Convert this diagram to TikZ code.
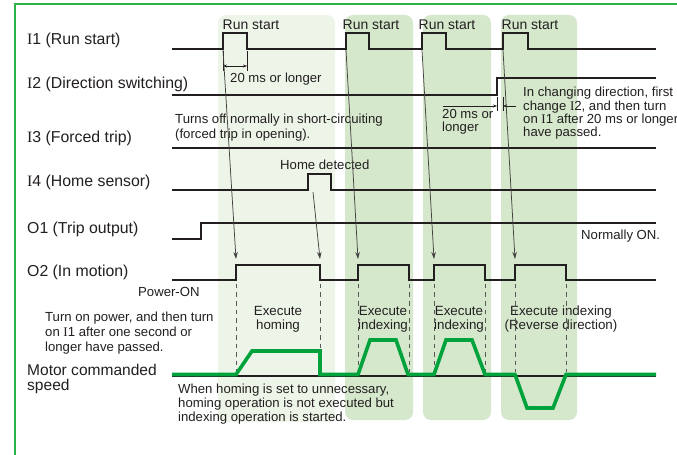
\documentclass[tikz,border=0pt]{standalone}
\usepackage{fontspec}
\setmainfont{Liberation Sans}
\newfontfamily\serifI{Liberation Serif}
\newcommand\Ii{{\serifI I}}
\usetikzlibrary{arrows.meta}
\definecolor{pale}{HTML}{EDF5E9}
\definecolor{zone}{HTML}{D5E8CC}
\definecolor{mgreen}{HTML}{00A23C}
\definecolor{framec}{HTML}{2DB24A}
\definecolor{ink}{HTML}{231F20}
\begin{document}
\begin{tikzpicture}[x=1bp,y=-1bp,
 sig/.style={line width=2.4bp, draw=ink, line join=miter},
 spd/.style={line width=3.6bp, draw=mgreen, line join=miter},
 arr/.style={line width=0.75bp, draw=ink!85, -{Stealth[length=7bp,width=4.5bp]}},
 dimarr/.style={line width=0.7bp, draw=ink},
 dsh/.style={line width=1bp, draw=ink!75, dash pattern=on 4.5bp off 4bp},
 lab/.style={anchor=base west, inner sep=0, text=ink, font=\fontsize{15.9}{18}\selectfont},
 motor/.style={anchor=base west, inner sep=0, text=ink, font=\fontsize{15.6}{17}\selectfont},
 note/.style={anchor=base west, inner sep=0, text=ink, font=\fontsize{13.2}{15}\selectfont},
 notec/.style={anchor=base, inner sep=0, text=ink, font=\fontsize{13.4}{15}\selectfont},
 runl/.style={anchor=base, inner sep=0, text=ink, font=\fontsize{14}{16}\selectfont},
 zoneA/.style={fill=pale, rounded corners=8bp},
 zoneB/.style={fill=zone, rounded corners=8bp}]
\useasboundingbox (0,0) rectangle (677,455);
\fill[white] (0,0) rectangle (677,455);
% zones
\fill[zoneA] (218,15) rectangle (335,422);
\fill[zoneB] (345,15) rectangle (413,420);
\fill[zoneB] (423,15) rectangle (491,420);
\fill[zoneB] (501,15) rectangle (577,420);
% frame
\draw[framec, line width=1.3bp] (680,4) -- (15,4) -- (15,458);
% labels
\node[lab] (lI1) at (27,45) {\Ii1 (Run start)};
\node[lab] (lI2) at (27,89) {\Ii2 (Direction switching)};
\node[lab] (lI3) at (27,143) {\Ii3 (Forced trip)};
\node[lab] (lI4) at (27,187) {\Ii4 (Home sensor)};
\node[lab] (lO1) at (27,234) {O1 (Trip output)};
\node[lab] (lO2) at (27,277) {O2 (In motion)};
\node[motor] (lM1) at (27,375) {Motor commanded};
\node[motor] (lM2) at (27,390) {speed};
% signals
\draw[sig] (172,49) -- (223,49) -- (223,33) -- (247,33) -- (247,49) -- (346,49) -- (346,33) -- (369,33) -- (369,49) -- (422,49) -- (422,33) -- (446,33) -- (446,49) -- (503,49) -- (503,33) -- (528,33) -- (528,49) -- (656,49);
\draw[sig] (172,95) -- (497,95) -- (497,78) -- (656,78);
\draw[sig] (172,148) -- (656,148);
\draw[sig] (172,190) -- (308,190) -- (308,174) -- (331,174) -- (331,190) -- (656,190);
\draw[sig] (172,239) -- (201,239) -- (201,223) -- (656,223);
\draw[sig] (172,280) -- (236,280) -- (236,265) -- (320,265) -- (320,280) -- (358,280) -- (358,265) -- (409,265) -- (409,280) -- (434,280) -- (434,265) -- (485,265) -- (485,280) -- (515,280) -- (515,265) -- (566,265) -- (566,280) -- (656,280);
% run start labels
\node[runl] (rs1) at (251,30) {Run start};
\node[runl] (rs2) at (371,30) {Run start};
\node[runl] (rs3) at (447,30) {Run start};
\node[runl] (rs4) at (530,30) {Run start};
% dimension I1
\draw[dimarr] (223,51) -- (223,71) (247,51) -- (247,71);
\coordinate (d1a) at (223,66); \coordinate (d1b) at (247,66);
\draw[dimarr, {Stealth[length=4bp,width=3bp]}-{Stealth[length=4bp,width=3bp]}] (d1a) -- (d1b);
\node[note] (n20a) at (230,83) {20 ms or longer};
% dimension I2
\draw[dimarr] (497,97) -- (497,111) (503,97) -- (503,111);
\coordinate (d2a) at (443,106); \coordinate (d2b) at (497,106);
\coordinate (d2c) at (516,106); \coordinate (d2d) at (503,106);
\draw[dimarr, -{Stealth[length=4bp,width=3bp]}] (d2a) -- (d2b);
\draw[dimarr, -{Stealth[length=4bp,width=3bp]}] (d2c) -- (d2d);
\node[note] (n20b1) at (442,119) {20 ms or};
\node[note] (n20b2) at (442,132) {longer};
\node[note] (nch1) at (523,97) {In changing direction, first};
\node[note] (nch2) at (523,111) {change \Ii2, and then turn};
\node[note] (nch3) at (523,124) {on \Ii1 after 20 ms or longer};
\node[note] (nch4) at (523,137) {have passed.};
% I3 note
\node[note] (nto1) at (175,124) {Turns off normally in short-circuiting};
\node[note] (nto2) at (175,139) {(forced trip in opening).};
% home
\node[note] (nhd) at (280,170) {Home detected};
\node[note] (nno) at (581,240) {Normally ON.};
\node[note] (npo) at (138,297) {Power-ON};
\node[note] (ntp1) at (45,322) {Turn on power, and then turn};
\node[note] (ntp2) at (45,337) {on \Ii1 after one second or};
\node[note] (ntp3) at (45,351) {longer have passed.};
\node[note] (nwh1) at (178,393) {When homing is set to unnecessary,};
\node[note] (nwh2) at (178,407) {homing operation is not executed but};
\node[note] (nwh3) at (178,421) {indexing operation is started.};
% execute labels
\node[notec] (ex1a) at (278,316) {Execute};
\node[notec] (ex1b) at (278,330) {homing};
\node[notec] (ex2a) at (383,316) {Execute};
\node[notec] (ex2b) at (383,330) {indexing};
\node[notec] (ex3a) at (459,316) {Execute};
\node[notec] (ex3b) at (459,330) {indexing};
\node[notec] (ex4a) at (561,316) {Execute indexing};
\node[notec] (ex4b) at (561,330) {(Reverse direction)};
% arrows
\coordinate (p1) at (223,50); \coordinate (q1) at (236,259);
\coordinate (p2) at (346,50); \coordinate (q2) at (358,259);
\coordinate (p3) at (422,50); \coordinate (q3) at (434,259);
\coordinate (p4) at (503,50); \coordinate (q4) at (515,259);
\coordinate (ph) at (313,192); \coordinate (qh) at (320,259);
\draw[arr] (p1) -- (q1);
\draw[arr] (p2) -- (q2);
\draw[arr] (p3) -- (q3);
\draw[arr] (p4) -- (q4);
\draw[arr] (ph) -- (qh);
% dashed
\foreach \x in {236,320,358,409,434,485,515,566}
  \draw[dsh] (\x,284) -- (\x,372);
% motor speed
\draw[line width=2bp, ink] (172,375.6) -- (656,375.6);
\draw[spd] (172,374.5) -- (236,374.5) -- (252,351) -- (320,351) -- (320,374.5) -- (358,374.5) -- (370,340) -- (396,340) -- (408,374.5) -- (434,374.5) -- (446,340) -- (472,340) -- (485,374.5) -- (515,374.5) -- (527,408) -- (553,408) -- (566,374.5) -- (656,374.5);
\end{tikzpicture}
\end{document}
